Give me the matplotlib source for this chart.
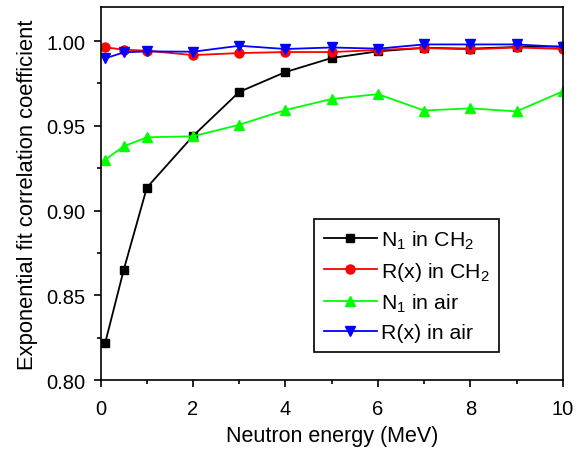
import matplotlib
matplotlib.use("Agg")
import matplotlib.pyplot as plt
from matplotlib.ticker import MultipleLocator

plt.rcParams['font.family'] = ['Liberation Sans', 'DejaVu Sans']
plt.rcParams['mathtext.fontset'] = 'custom'
plt.rcParams['mathtext.rm'] = 'Liberation Sans'
plt.rcParams['mathtext.it'] = 'Liberation Sans:italic'

energy = [0.1, 0.5, 1, 2, 3, 4, 5, 6, 7, 8, 9, 10]
n1_ch2 = [0.822, 0.865, 0.9135, 0.944, 0.970, 0.9817, 0.990, 0.9939, 0.996, 0.9955, 0.9965, 0.9968]
rx_ch2 = [0.9963, 0.9949, 0.9943, 0.9917, 0.9929, 0.9935, 0.9935, 0.9947, 0.9959, 0.9951, 0.9962, 0.9953]
n1_air = [0.930, 0.9379, 0.9432, 0.9438, 0.9506, 0.9593, 0.9658, 0.9687, 0.9590, 0.9603, 0.9585, 0.9703]
rx_air = [0.9898, 0.9933, 0.9939, 0.9937, 0.9972, 0.9953, 0.9962, 0.9955, 0.998, 0.998, 0.998, 0.9965]

labels = ["N$_1$ in CH$_2$", "R(x) in CH$_2$", "N$_1$ in air", "R(x) in air"]

fig = plt.figure(figsize=(5.85, 4.52), dpi=100)
ax = fig.add_axes([0.172, 0.157, 0.790, 0.825])

lw = 1.3
ax.plot(energy, n1_ch2, color='black', marker='s', ms=5.5, lw=lw, label=labels[0])
ax.plot(energy, rx_ch2, color='red', marker='o', ms=6.5, lw=lw, label=labels[1])
ax.plot(energy, n1_air, color='#00ff00', marker='^', ms=7, lw=lw, label=labels[2])
ax.plot(energy, rx_air, color='blue', marker='v', ms=7, lw=lw, label=labels[3])

ax.set_xlim(0, 10)
ax.set_ylim(0.80, 1.02)
ax.xaxis.set_major_locator(MultipleLocator(2))
ax.xaxis.set_minor_locator(MultipleLocator(1))
ax.yaxis.set_major_locator(MultipleLocator(0.05))
ax.yaxis.set_minor_locator(MultipleLocator(0.025))
ax.yaxis.set_major_formatter(matplotlib.ticker.FormatStrFormatter('%.2f'))
ax.tick_params(which='major', direction='out', length=5, width=1.2, labelsize=14.5)
ax.tick_params(which='minor', direction='out', length=3, width=1.2)
ax.tick_params(axis='x', which='major', pad=9)
ax.tick_params(axis='y', which='major', pad=6)
for s in ax.spines.values():
    s.set_linewidth(1.2)

ax.set_xlabel("Neutron energy (MeV)", fontsize=15.5, labelpad=5)
ax.set_ylabel("Exponential fit correlation coefficient", fontsize=15.8, labelpad=6)

leg = ax.legend(loc='upper left', bbox_to_anchor=(0.4616, 0.4316), borderaxespad=0,
                fancybox=False, edgecolor='black', fontsize=15.3, handlelength=2.5,
                labelspacing=0.42, handletextpad=0.2, borderpad=0.45, framealpha=1)
leg.get_frame().set_linewidth(1.2)

fig.savefig("out.png", dpi=100)
